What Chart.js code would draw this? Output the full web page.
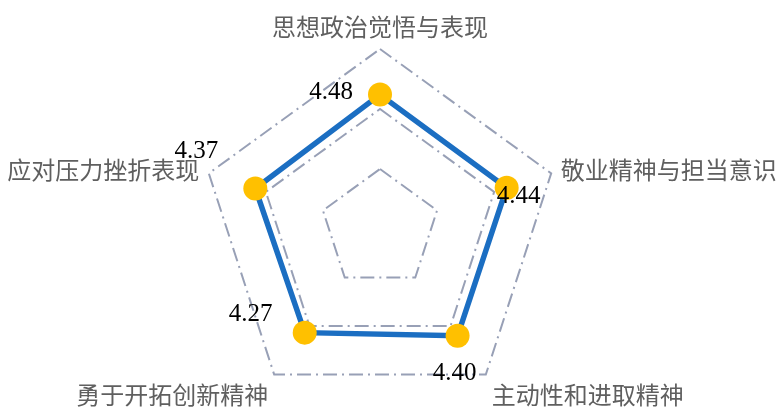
<!DOCTYPE html>
<html>
<head>
<meta charset="utf-8">
<script src="https://cdn.jsdelivr.net/npm/chart.js@4/dist/chart.umd.min.js"></script>
<style>
  html, body { margin: 0; padding: 0; background: #fff; }
  #box { width: 777px; height: 410px; position: relative; }
</style>
</head>
<body>
<div id="box"><canvas id="radarChart"></canvas></div>
<script>
// Dữ liệu
const categories = ['思想政治觉悟与表现', '敬业精神与担当意识', '主动性和进取精神', '勇于开拓创新精神', '应对压力挫折表现'];
const scores = [4.48, 4.44, 4.40, 4.27, 4.37];
const scaleTicks = [0, 2, 4, 6];

// Vị trí nhãn giá trị so với điểm (dx, dy)
const valueLabelOffsets = [[-49, -2], [12, 9], [-3, 38], [-54, -18], [-59, -37]];
// Căn lề nhãn danh mục
const catAlign = [['center', 'bottom'], ['left', 'middle'], ['left', 'top'], ['right', 'top'], ['right', 'middle']];

const labelPlugin = {
    id: 'customLabels',
    afterDatasetsDraw(chart) {
        const ctx = chart.ctx;
        const scale = chart.scales.r;
        const meta = chart.getDatasetMeta(0);

        // Nhãn danh mục
        ctx.save();
        ctx.font = '24px "Noto Sans CJK SC", sans-serif';
        ctx.fillStyle = '#5f5f5f';
        categories.forEach((label, i) => {
            const p = scale.getPointPosition(i, scale.drawingArea + 10);
            ctx.textAlign = catAlign[i][0];
            ctx.textBaseline = catAlign[i][1];
            ctx.fillText(label, p.x, p.y);
        });
        ctx.restore();

        // Nhãn giá trị
        ctx.save();
        ctx.font = '25px "Liberation Serif", serif';
        ctx.fillStyle = '#000';
        ctx.textAlign = 'center';
        ctx.textBaseline = 'middle';
        meta.data.forEach((pt, i) => {
            const o = valueLabelOffsets[i];
            ctx.fillText(scores[i].toFixed(2), pt.x + o[0], pt.y + o[1]);
        });
        ctx.restore();
    }
};

new Chart(document.getElementById('radarChart'), {
    type: 'radar',
    data: {
        labels: categories,
        datasets: [{
            data: scores,
            borderColor: '#1B6EC2',
            borderWidth: 5.5,
            backgroundColor: 'transparent',
            fill: false,
            pointBackgroundColor: '#FFC000',
            pointBorderColor: '#FFC000',
            pointBorderWidth: 0,
            pointRadius: 12,
            tension: 0
        }]
    },
    options: {
        responsive: true,
        maintainAspectRatio: false,
        animation: false,
        layout: { padding: { top: 49, bottom: -3, left: 198, right: 215 } },
        plugins: {
            legend: { display: false },
            tooltip: { enabled: false }
        },
        scales: {
            r: {
                min: scaleTicks[0],
                max: scaleTicks[scaleTicks.length - 1],
                ticks: { display: false, stepSize: scaleTicks[1] - scaleTicks[0] },
                angleLines: { display: false },
                pointLabels: { display: false },
                grid: { color: '#98A0B6', lineWidth: 2 },
                border: { dash: [14, 5, 2, 5] }
            }
        }
    },
    plugins: [labelPlugin]
});
</script>
</body>
</html>
